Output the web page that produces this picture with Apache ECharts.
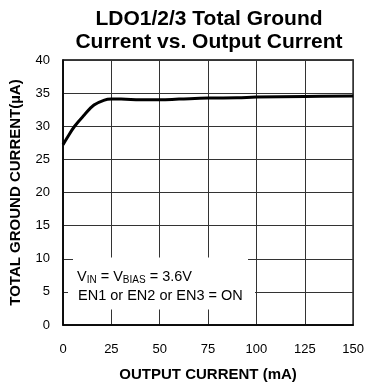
<!DOCTYPE html>
<html><head><meta charset="utf-8">
<script src="https://cdn.jsdelivr.net/npm/echarts@6/dist/echarts.min.js"></script>
<style>html,body{margin:0;padding:0;background:#fff}#c{width:367px;height:387px}</style>
</head><body><div id="c"></div>
<script>
var outputCurrent = [0, 2, 6, 11, 16, 21, 25, 30, 40, 50, 60, 75, 90, 100, 125, 150];
var groundCurrent = [27.2, 28.2, 30.0, 31.7, 33.2, 33.9, 34.1, 34.1, 34.0, 34.0, 34.1, 34.25, 34.3, 34.4, 34.5, 34.55];
var xTicks = [0, 25, 50, 75, 100, 125, 150];
var yTicks = [0, 5, 10, 15, 20, 25, 30, 35, 40];

var chart = echarts.init(document.getElementById('c'), null, {renderer: 'canvas'});
var font = 'Liberation Sans, Arial, sans-serif';
chart.setOption({
  animation: false,
  title: {
    text: 'LDO1/2/3 Total Ground\nCurrent vs. Output Current',
    left: 204, top: 3, textAlign: 'center',
    textStyle: {fontFamily: font, fontWeight: 'bold', fontSize: 21, color: '#000', lineHeight: 23}
  },
  grid: {left: 61, right: 11, top: 60, bottom: 62, show: true, borderColor: '#000', borderWidth: 1.5},
  xAxis: {
    type: 'value', min: 0, max: 150, interval: 25,
    name: 'OUTPUT CURRENT (mA)', nameLocation: 'middle', nameGap: 42,
    nameTextStyle: {fontFamily: font, fontWeight: 'bold', fontSize: 15, color: '#000'},
    axisLine: {show: true, lineStyle: {color: '#000', width: 1.5}},
    axisTick: {show: false},
    axisLabel: {fontFamily: font, fontSize: 13, color: '#000', margin: 18},
    splitLine: {show: true, lineStyle: {color: '#333', width: 1}}
  },
  yAxis: {
    type: 'value', min: 0, max: 40, interval: 5,
    name: 'TOTAL GROUND CURRENT(\u00b5A)', nameLocation: 'middle', nameGap: 40, nameRotate: 90,
    nameTextStyle: {fontFamily: font, fontWeight: 'bold', fontSize: 15, color: '#000'},
    axisLine: {show: true, lineStyle: {color: '#000', width: 1.5}},
    axisTick: {show: false},
    axisLabel: {fontFamily: font, fontSize: 13, color: '#000', margin: 13},
    splitLine: {show: true, lineStyle: {color: '#333', width: 1}}
  },
  series: [{
    type: 'line', smooth: 0.4, symbol: 'none',
    data: outputCurrent.map(function (x, i) { return [x, groundCurrent[i]]; }),
    lineStyle: {color: '#000', width: 3}, z: 5
  }],
  graphic: [
    {type: 'rect', shape: {x: 73, y: 257.5, width: 175, height: 52}, style: {fill: '#fff'}, z: 10},
    {type: 'rect', shape: {x: 68, y: 289, width: 187, height: 6}, style: {fill: '#fff'}, z: 10},
    {type: 'text', left: 77, top: 269.5, z: 11, style: {
      text: '{n|V}{s|IN}{n| = V}{s|BIAS}{n| = 3.6V}',
      rich: {
        n: {fontFamily: font, fontSize: 14.5, fill: '#000'},
        s: {fontFamily: font, fontSize: 10, fill: '#000', verticalAlign: 'bottom', padding: [6, 0, 0, 0]}
      }
    }},
    {type: 'text', left: 78, top: 288.5, z: 11, style: {
      text: 'EN1 or EN2 or EN3 = ON', fontFamily: font, fontSize: 14.5, fill: '#000'
    }}
  ]
});
</script></body></html>
